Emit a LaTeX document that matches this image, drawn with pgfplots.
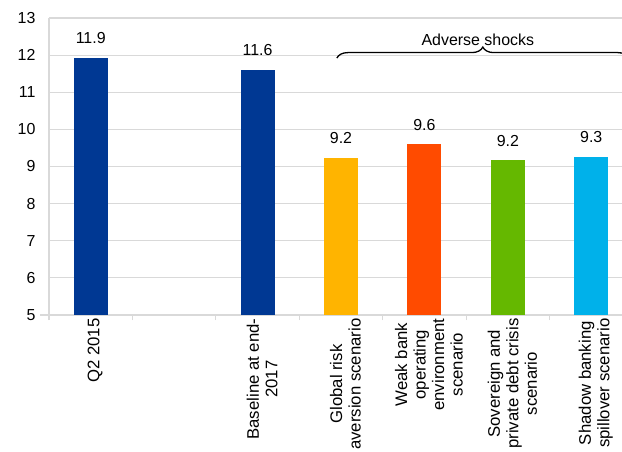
\documentclass[border=0pt]{standalone}
\usepackage{fontspec}
\setmainfont{Liberation Sans}
\usepackage{pgfplots}
\pgfplotsset{compat=1.18}
\usetikzlibrary{decorations.pathreplacing}
\definecolor{ecbblue}{RGB}{0,56,147}
\definecolor{ecbyellow}{RGB}{255,180,0}
\definecolor{ecborange}{RGB}{255,75,0}
\definecolor{ecbgreen}{RGB}{101,184,0}
\definecolor{ecbcyan}{RGB}{0,177,234}
\definecolor{gridgray}{RGB}{217,217,217}
\begin{document}
\begin{tikzpicture}
\begin{axis}[
  name=ax, at={(0,0)}, anchor=south west,
  scale only axis, width=584bp, height=297bp,
  xmin=-0.5, xmax=6.5, ymin=5, ymax=13,
  ytick={5,...,13},
  xtick={0,...,6},
  xticklabels={{Q2 2015},{},{Baseline at end-\\2017},{Global risk\\aversion scenario},{Weak bank\\operating\\environment\\scenario},{Sovereign and\\private debt crisis\\scenario},{Shadow banking\\spillover scenario}},
  minor xtick={-0.5,0.5,...,6.5},
  axis x line*=bottom, axis y line*=left,
  axis line style={gridgray, line width=1.2bp},
  x axis line style={shorten <=-9bp},
  ymajorgrids, grid style={gridgray, line width=1.2bp},
  major tick length=0pt, minor tick length=5bp, tick align=outside,
  minor tick style={gridgray, line width=1.2bp},
  xticklabel style={rotate=90, anchor=east, align=center, font=\fontsize{16.8}{18.6}\selectfont, yshift=-4.5bp},
  yticklabel style={font=\fontsize{16}{18}\selectfont, xshift=-10bp},
  /pgf/number format/assume math mode=true,
  ybar, bar width=34bp, bar shift=0pt,
  nodes near coords, point meta=explicit symbolic,
  nodes near coords style={font=\fontsize{16}{18}\selectfont, yshift=10.5bp, text=black},
]
\addplot[fill=ecbblue, draw=none] coordinates {(0,11.92) [11.9]};
\addplot[fill=ecbblue, draw=none] coordinates {(2,11.60) [11.6]};
\addplot[fill=ecbyellow, draw=none] coordinates {(3,9.23) [9.2]};
\addplot[fill=ecborange, draw=none] coordinates {(4,9.60) [9.6]};
\addplot[fill=ecbgreen, draw=none] coordinates {(5,9.17) [9.2]};
\addplot[fill=ecbcyan, draw=none] coordinates {(6,9.26) [9.3]};
\draw[decorate, decoration={brace, amplitude=11bp}, line width=1.3bp, black] (axis cs:2.95,11.92) -- (axis cs:6.45,11.92);
\node[anchor=base, font=\fontsize{16}{18}\selectfont] at (axis cs:4.64,12.27) {Adverse shocks};
\end{axis}
\pgfresetboundingbox
\path[use as bounding box] ([shift={(-49bp,-137bp)}]ax.south west) rectangle ++(622bp,452bp);
\end{tikzpicture}
\end{document}
